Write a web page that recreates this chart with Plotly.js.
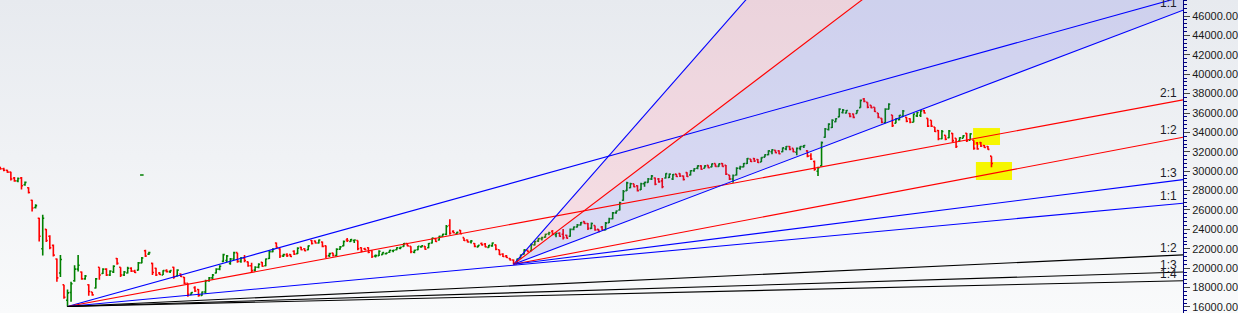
<!DOCTYPE html>
<html><head><meta charset="utf-8">
<script src="https://cdn.plot.ly/plotly-3.0.1.min.js"></script>
<style>
html,body{margin:0;padding:0;}
body{width:1238px;height:313px;overflow:hidden;background:linear-gradient(to bottom,#e7eaef 0%,#f9fafb 100%);}
#chart{width:1238px;height:313px;}
</style>
</head><body><div id="chart"></div>
<script>
// Daily OHLC bars (bar index 0..280)
const openP = [30400,30250,30100,29900,29300,29000,29300,28600,28300,27000,26250,25150,22000,24000,23300,22350,20950,19500,18300,16700,
17500,18700,19900,19600,18900,18300,17550,17950,20100,19450,19900,19300,19600,21000,20100,19300,19500,20000,19700,19800,
20550,21800,21450,20500,20000,19500,19300,19750,19650,20100,19200,19400,19050,18450,17300,18000,17800,17200,17550,18700,
19000,19500,19900,20700,20800,20500,20950,21600,20700,21050,20650,20250,19800,20100,20600,20250,21000,21700,22600,22000,
21250,21400,21400,21750,21500,22150,22000,21900,22850,22800,22600,22700,22300,21300,21550,21300,21950,22300,22900,22750,
22850,22850,22100,22000,22100,21800,21250,21300,21400,21500,21650,21800,21900,22050,22250,22550,22250,21650,21900,22200,
22250,22100,22600,23050,22900,23300,23500,24400,23800,23550,23900,23150,22900,22700,22550,22200,22550,22500,22150,22300,
22400,21900,21450,21250,21000,20850,20450,21050,21450,21850,21800,22400,22800,23050,23200,23550,23800,23450,23600,23500,
23400,23300,24000,24250,24450,24800,24600,24100,24400,24000,24250,23950,24700,25100,25700,26000,27000,28000,28300,28700,
28500,28100,28700,28850,29200,29300,29200,29000,29300,29350,29200,29700,29750,29500,29850,29600,30050,30300,30550,30300,
30600,30450,30800,30500,30800,30600,29600,29200,29600,30300,30450,30800,31250,31300,31200,30950,31450,31700,32000,32150,
32100,32000,32300,32550,32350,31950,32350,32550,32100,31600,31000,30000,30550,33500,34300,34500,35100,35600,36050,36000,
35950,35900,35950,36550,37450,37100,36800,36600,36000,35450,35000,36400,35800,34950,35300,35650,35550,35400,35050,35700,
35750,36250,35450,35250,34550,34200,33350,33700,33450,33900,33400,33100,33400,33900,33200,33200,32900,32950,32650,32550,
31550];
const highP = [30450,30350,30150,29950,29400,29350,29400,28950,28350,27050,26600,25200,25500,24050,23400,22450,21000,21350,18300,17800,
18600,20300,21350,19650,19300,18350,17550,19000,20100,20000,20000,19800,20300,21050,20100,19700,20150,20100,19850,20650,
21150,21900,21700,20550,20050,19600,19800,19900,19800,20150,19900,19450,19100,18450,17550,18150,17850,17600,18800,19100,
19400,20000,20300,21500,21350,21050,21700,21600,21150,21350,20700,20550,20200,20500,20650,21000,21850,22050,22650,22050,
21500,21550,21450,21850,22150,22200,22050,22350,22900,22850,22950,22750,22350,21600,21600,22050,22300,22850,23100,23000,
22950,22850,22150,22100,22150,21850,21400,21850,21650,21600,21900,21900,22150,22200,22600,22600,22250,21900,22300,22350,
22300,22600,23150,23100,23350,23550,24450,25050,23900,23750,23950,23150,22950,22900,22600,22400,22650,22600,22400,22650,
22450,21900,21550,21350,21050,20900,21000,21400,21950,21900,22550,22800,23100,23250,23550,23750,23950,23650,23700,24050,
23450,24100,24300,24550,24750,24850,24650,24700,24400,24050,24350,24750,25200,25800,25950,26850,28050,28900,28800,28700,
28550,28800,28900,29300,29600,29350,29300,29300,29800,29750,29700,29700,29800,29550,29900,30100,30300,30600,30600,30600,
30600,30800,30800,30800,30850,30650,29600,29650,30400,30550,30850,31350,31250,31350,31250,31450,31750,32150,32250,32150,
32150,32450,32600,32600,32350,32450,32600,32700,32150,31850,31100,30450,33050,34450,34950,35350,35450,36500,36400,36300,
36000,35950,36300,37400,37550,37100,36800,36600,36000,35450,36500,37000,35800,35450,35800,36300,35600,35450,35950,36100,
36300,36300,35450,35250,34550,34250,34250,33700,34250,33950,33400,33500,33700,33950,33900,33200,33000,33000,32700,32600,
31550];
const lowP = [30150,30000,29850,29050,28900,28850,28100,28500,27700,25850,26150,22750,21300,22700,21950,21200,18600,19100,16850,16050,
16550,18600,19650,18800,18800,17150,17150,17900,18800,19400,19200,19200,19500,20350,19100,19200,19450,19600,19500,19750,
20500,21150,21350,19300,19200,19300,19300,19550,19500,18900,19150,19100,18350,17050,17250,17550,17050,17150,17400,18600,
18800,19450,19800,20650,20650,20350,20850,20550,20550,20600,20150,19600,19650,20000,20150,20200,20950,21650,22100,21050,
21150,21150,21150,21350,21450,21850,21750,21850,22450,22550,22550,22150,21050,21150,21200,21250,21900,22250,22700,22700,
22600,21850,21650,21850,21550,21050,21100,21250,21350,21400,21600,21650,21850,21950,22200,22250,21550,21550,21850,22100,
21900,22050,22550,22700,22850,23250,23400,23450,23600,23500,23500,22800,22650,22550,22150,22150,22350,22150,22100,22200,
21850,21350,21150,21050,20800,20400,20450,21000,21400,21650,21750,22350,22700,22850,23150,23400,23400,23200,23250,22950,
23050,23250,23900,24200,24400,24550,23950,24050,23850,23750,23900,23900,24650,25050,25600,25950,26950,27950,28250,28350,
27900,28050,28400,28800,29100,28550,28800,28250,29250,29300,29100,29400,29400,29050,29400,29550,29950,30200,30150,30300,
30300,30400,30450,30450,30450,29600,29100,28800,29550,30150,30400,30750,30950,30950,30850,30950,31450,31650,31750,31850,
31750,31950,32150,32150,31950,31650,32150,32400,31450,31150,30050,29500,30500,33450,34200,34450,35050,35550,35950,35950,
35550,35450,35950,36550,37100,36500,36500,36100,35450,34950,34950,36350,34550,34950,35250,35600,35050,34950,35050,35600,
35600,35950,34550,34550,34050,33200,33300,33200,33400,33000,32400,33100,33400,33000,33200,32200,32200,32500,32400,32200,
30400];
const closeP = [30250,30100,29900,29200,29000,29250,28500,28850,27800,26200,26450,23300,25150,22850,22100,21350,19000,20900,17000,17450,
18400,19900,20300,18900,19200,17600,17250,18900,19300,19900,19300,19700,20200,20500,19300,19600,20000,19700,19550,20550,
21050,21250,21600,19550,19300,19350,19750,19650,19750,19100,19800,19150,18450,17300,17500,17650,17200,17550,18700,19000,
19300,19900,20200,21400,21250,20950,21600,20700,21050,20800,20250,19750,20100,20400,20200,20950,21700,21950,22150,21250,
21400,21300,21200,21450,22050,21900,21800,22300,22550,22600,22900,22250,21250,21500,21300,21950,22200,22750,22850,22950,
22900,22000,21750,21900,21650,21200,21300,21750,21600,21550,21850,21850,22100,22150,22550,22300,21700,21850,22250,22300,
21950,22550,23100,22750,23300,23500,24300,23600,23650,23700,23550,22850,22700,22800,22250,22350,22400,22200,22350,22600,
21950,21400,21200,21100,20850,20450,20950,21350,21900,21700,22450,22750,23050,23150,23500,23650,23500,23600,23300,23150,
23100,24000,24250,24450,24700,24600,24100,24600,23950,23800,23950,24650,25100,25700,25900,26750,27900,28800,28700,28400,
28000,28700,28850,29200,29500,28650,28900,28400,29750,29700,29650,29450,29500,29150,29450,30050,30250,30550,30200,30550,
30350,30750,30500,30750,30500,29700,29200,29550,30300,30450,30800,31300,31000,31050,30900,31400,31700,32100,32200,31900,
31800,32400,32550,32250,32000,32350,32550,32650,31550,31250,30200,30350,32950,34350,34850,35250,35400,36400,36300,36250,
35650,35550,36250,37300,37200,36600,36550,36150,35550,35050,36400,36900,34700,35400,35750,36200,35150,35050,35900,36050,
36200,36000,34650,34650,34100,33350,34100,33300,34150,33150,32550,33450,33650,33150,33850,32350,32300,32600,32450,32250,
30800];
const barIndex = openP.map((_, i) => i);

// a single flat print seen above the March bars
const strayIndex = [40];
const strayPrice = [29600];

// Gann fans: origin bar, price units per bar, ratios, colours, labels
const fanOrigins = [19, 145];
const fanUnits = [33.8, 138.5];
const fan1Ratios = [3, 2, 1, 1/2, 1/3, 1/4];
const fan1Colors = ['#0000ff', '#ff0000', '#0000ff', '#000000', '#000000', '#000000'];
const fan1Labels = ['', '2:1', '1:1', '1:2', '1:3', '1:4'];
const fan2Ratios = [3, 2, 1, 1/2, 1/3];
const fan2Colors = ['#0000ff', '#ff0000', '#0000ff', '#ff0000', '#0000ff'];
const fan2Labels = ['', '', '1:1', '1:2', '1:3'];

// Yellow highlight zones (bar index range, price range)
const zoneStart = [274.8, 275.6];
const zoneEnd = [282.4, 285.8];
const zoneLow = [32700, 29100];
const zoneHigh = [34450, 30950];

const xMin = -0.07, xMax = 334.1;

const traces = [];
const annotations = [];

function fanPrice(f, ratio, x) {
  const o = fanOrigins[f];
  return lowP[o] + ratio * fanUnits[f] * (x - o);
}

// shaded wedges of the second fan
(function () {
  const o = fanOrigins[1], p0 = lowP[o];
  traces.push({type:'scatter', mode:'lines', x:[o, xMax, xMax, o], y:[p0, fanPrice(1,3,xMax), fanPrice(1,2,xMax), p0],
    fill:'toself', fillcolor:'rgba(255,100,130,0.17)', line:{width:0}, hoverinfo:'skip'});
  traces.push({type:'scatter', mode:'lines', x:[o, xMax, xMax, o], y:[p0, fanPrice(1,2,xMax), fanPrice(1,1,xMax), p0],
    fill:'toself', fillcolor:'rgba(60,60,230,0.14)', line:{width:0}, hoverinfo:'skip'});
})();

traces.push({
  type:'ohlc', x:barIndex, open:openP, high:highP, low:lowP, close:closeP,
  increasing:{line:{color:'#008000', width:1.6}},
  decreasing:{line:{color:'#ff0000', width:1.6}},
  tickwidth:0.42, hoverinfo:'skip'
});
traces.push({
  type:'ohlc', x:strayIndex, open:strayPrice, high:strayPrice, low:strayPrice, close:strayPrice,
  increasing:{line:{color:'#008000', width:1.6}}, decreasing:{line:{color:'#008000', width:1.6}},
  tickwidth:0.5, hoverinfo:'skip'
});

function addFan(f, ratios, colors, labels) {
  const o = fanOrigins[f];
  ratios.forEach((r, k) => {
    traces.push({type:'scatter', mode:'lines', x:[o, xMax], y:[lowP[o], fanPrice(f, r, xMax)],
      line:{color:colors[k], width:1.1}, hoverinfo:'skip'});
    if (labels[k]) {
      annotations.push({x:xMax, y:fanPrice(f, r, xMax), xref:'x', yref:'y', text:labels[k], showarrow:false,
        xanchor:'right', yanchor:'bottom', xshift:-4, yshift:-2,
        font:{family:'Arial, "Liberation Sans", sans-serif', size:12, color:'#1c1c28'}});
    }
  });
}
addFan(0, fan1Ratios, fan1Colors, fan1Labels);
addFan(1, fan2Ratios, fan2Colors, fan2Labels);

const shapes = zoneStart.map((s, k) => ({type:'rect', layer:'below', xref:'x', yref:'y',
  x0:s, x1:zoneEnd[k], y0:zoneLow[k], y1:zoneHigh[k], fillcolor:'#f6f600', line:{width:0}}));

const layout = {
  width:1238, height:313,
  margin:{l:0, r:55, t:0, b:0, autoexpand:false},
  paper_bgcolor:'rgba(0,0,0,0)', plot_bgcolor:'rgba(0,0,0,0)',
  showlegend:false, hovermode:false,
  xaxis:{range:[xMin, xMax], visible:false, showgrid:false, zeroline:false, rangeslider:{visible:false}, fixedrange:true},
  yaxis:{side:'right', range:[15380, 47650], tick0:0, dtick:2000, tickformat:'.2f',
    showgrid:false, zeroline:false, showline:true, linecolor:'#00007f', linewidth:1,
    ticks:'outside', ticklen:6, tickcolor:'#444', tickwidth:1,
    tickfont:{family:'Arial, "Liberation Sans", sans-serif', size:11, color:'#1a1a1a'},
    minor:{dtick:400, ticks:'outside', ticklen:3, tickcolor:'#00007f'}, fixedrange:true},
  shapes:shapes,
  annotations:annotations
};

Plotly.newPlot('chart', traces, layout, {staticPlot:true, displayModeBar:false});
</script>
</body></html>
